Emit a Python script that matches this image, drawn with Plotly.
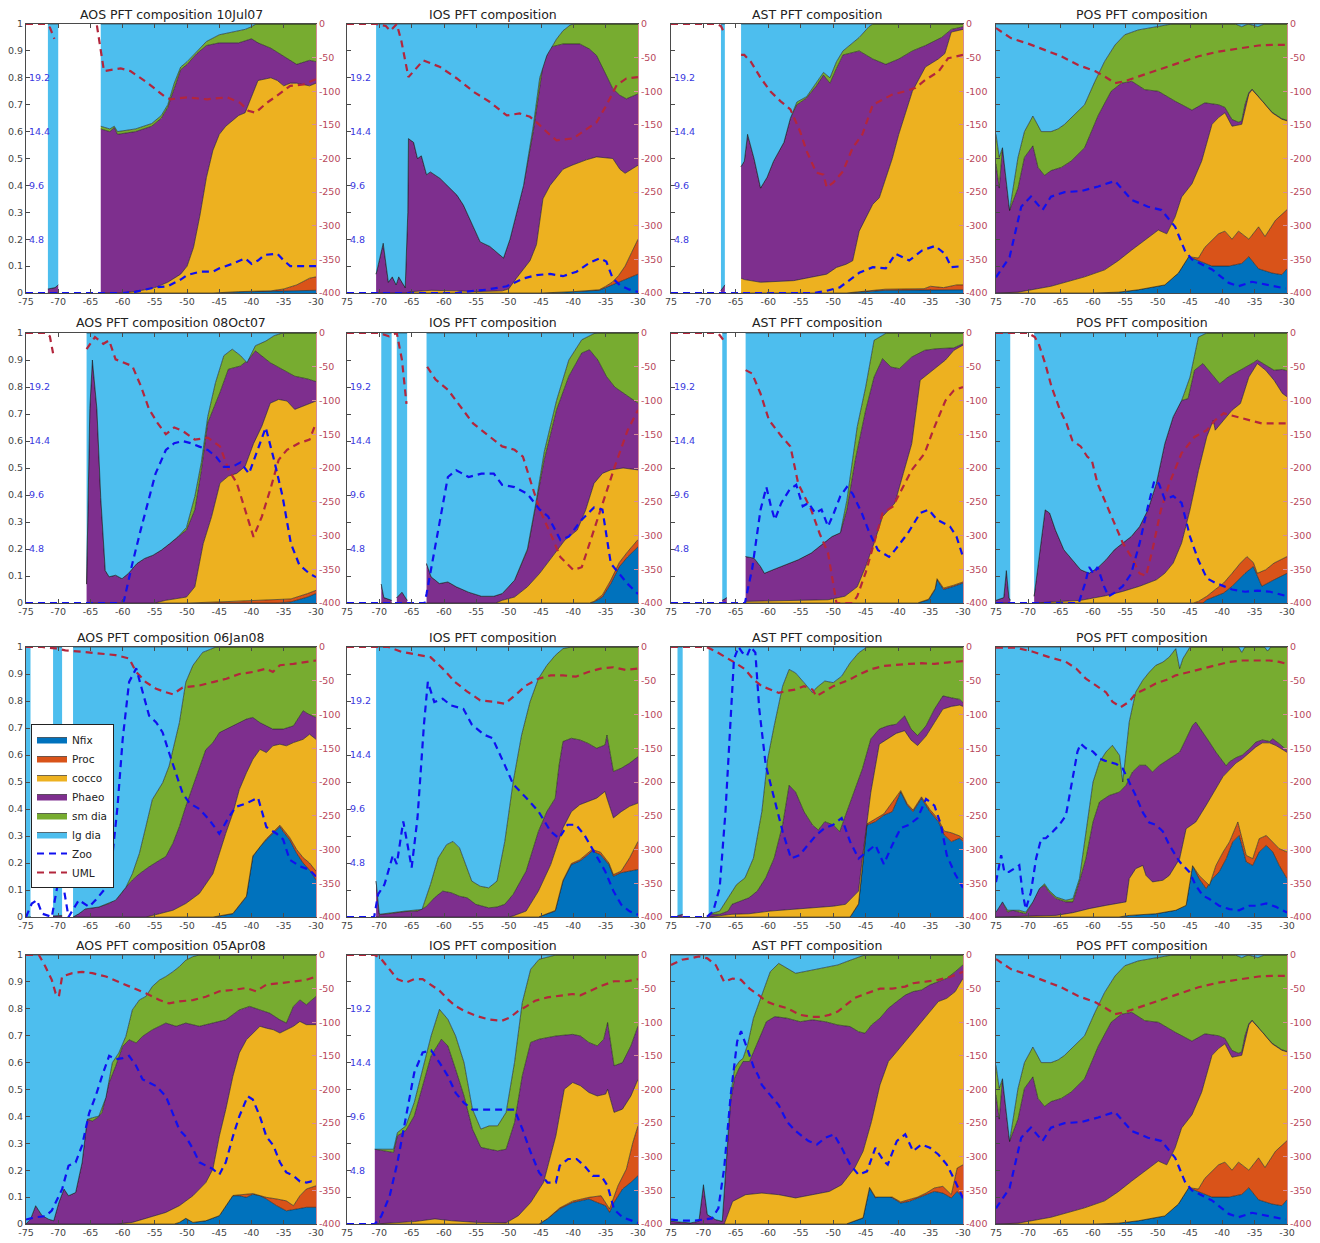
import copy
import plotly.graph_objects as go

W, H = 1320, 1243

TITLES = ["AOS PFT composition 10Jul07", "IOS PFT composition", "AST PFT composition", "POS PFT composition",
          "AOS PFT composition 08Oct07", "IOS PFT composition", "AST PFT composition", "POS PFT composition",
          "AOS PFT composition 06Jan08", "IOS PFT composition", "AST PFT composition", "POS PFT composition",
          "AOS PFT composition 05Apr08", "IOS PFT composition", "AST PFT composition", "POS PFT composition"]
SHOW_ZOO_LABELS = [True, True, True, False, True, True, True, False,
                   False, True, False, False, False, True, False, False]

SERIES_NAMES = ["Nfix", "Proc", "cocco", "Phaeo", "sm dia", "lg dia"]
SERIES_COLORS = ["#0072BD", "#D95319", "#EDB120", "#7E2F8E", "#77AC30", "#4DBEEE"]

X_TICKS = [-75, -70, -65, -60, -55, -50, -45, -40, -35, -30]
FRAC_TICKS = [0, 0.1, 0.2, 0.3, 0.4, 0.5, 0.6, 0.7, 0.8, 0.9, 1]
FRAC_LABELS = ["0", "0.1", "0.2", "0.3", "0.4", "0.5", "0.6", "0.7", "0.8", "0.9", "1"]
UML_TICKS = [0, -50, -100, -150, -200, -250, -300, -350, -400]
UML_LABELS = ["0", "-50", "-100", "-150", "-200", "-250", "-300", "-350", "-400"]
ZOO_TICKS = [4.8, 9.6, 14.4, 19.2]
ZOO_LABELS = ["4.8", "9.6", "14.4", "19.2"]

# Cumulative tops of each functional type (fraction of total), (longitude, value); None = data gap
NFIX = [
    [(-71.6, 0), (-70, 0), None, (-63.4, 0), (-46, 0), (-42, .004), (-36, .006), (-33, .008), (-30, .01)],
    [(-70.5, 0), (-45, 0), (-40, .005), (-36, .01), (-35, .02), (-33, .04), (-31, .06), (-30, .07)],
    [(-67.3, 0), (-66.7, 0), None, (-64.2, 0), (-48, 0), (-45, .005), (-42, .01), (-30, .012)],
    [(-75, 0), (-60, 0), (-56.1, .003), (-53, .012), (-48.9, .03), (-46.8, .074), (-45.2, .135), (-43.7, .12), (-41.6, .1), (-39, .1), (-37, .11), (-35.9, .135), (-34.4, .09), (-32.3, .074), (-30.8, .068), (-30, .09)],
    [(-65.6, 0), (-36, 0), (-33.9, .004), (-31.3, .022), (-30, .035)],
    [(-69.7, 0), (-68.1, 0), None, (-67.3, 0), (-65.7, 0), None, (-62.7, 0), (-37.5, 0), (-36.8, .004), (-35.5, .022), (-34.2, .072), (-32.9, .134), (-31.6, .171), (-30, .208)],
    [(-67.1, 0), (-66.4, 0), None, (-63.5, 0), (-37, 0), (-35.3, .012), (-34.6, .037), (-34.3, .05), (-34, .086), (-33, .05), (-31.4, .062), (-30, .074)],
    [(-75, 0), (-72.8, 0), None, (-69.1, 0), (-43, 0), (-42.4, .012), (-39.8, .037), (-38.5, .062), (-36.5, .11), (-35.2, .135), (-33.9, .062), (-32, .086), (-30, .11)],
    [(-75, 0), (-74.3, 0), None, (-70.8, 0), (-69.4, 0), None, (-67.7, 0), (-46, 0), (-42.9, .012), (-40.8, .075), (-39.8, .224), (-38.7, .26), (-37.7, .286), (-36.7, .31), (-35.6, .335), (-35.1, .317), (-34.1, .286), (-33, .236), (-32, .2), (-31, .174), (-30, .137)],
    [(-70.5, 0), (-45.4, 0), (-42.8, .022), (-41.6, .133), (-40.3, .194), (-39, .207), (-37.7, .231), (-37.1, .244), (-35.8, .231), (-34.5, .194), (-33.8, .151), (-32.6, .164), (-30, .176)],
    [(-74, 0), (-73.2, 0), None, (-69.2, 0), (-47.4, 0), (-46.1, .047), (-44.8, .34), (-43.5, .353), (-42.2, .377), (-40.9, .39), (-39.6, .463), (-38.6, .414), (-37.7, .39), (-36.4, .439), (-35.1, .39), (-33.8, .353), (-32.9, .304), (-31.8, .279), (-30.5, .292), (-30, .279)],
    [(-75, 0), (-56, 0), (-54.4, .006), (-50.3, .012), (-47.2, .025), (-45.6, .043), (-44.6, .19), (-43.6, .142), (-42.5, .105), (-41.5, .142), (-40.5, .167), (-39.4, .216), (-38.4, .278), (-37.4, .302), (-36.3, .204), (-35.3, .191), (-34.3, .241), (-33.2, .265), (-32.2, .241), (-31.2, .191), (-30, .142)],
    [(-75, 0), (-52, 0), (-51.2, .006), (-50.2, .021), (-49.1, .006), (-47.1, .012), (-45, .031), (-44, .068), (-42.9, .105), (-41.9, .105), (-40.8, .099), (-39.8, .111), (-38.7, .105), (-37.7, .093), (-36.1, .068), (-34.6, .049), (-33, .056), (-31.5, .062), (-30, .062)],
    [(-70.7, 0), (-45.3, 0), (-44, .019), (-42.1, .056), (-40.1, .08), (-38.9, .087), (-37.6, .093), (-36.3, .08), (-35, .068), (-34.4, .043), (-33.7, .08), (-32.4, .13), (-31.1, .155), (-30, .18)],
    [(-75, 0), (-48, 0), (-45.4, .022), (-44.4, .134), (-43.5, .097), (-42.2, .115), (-40.9, .097), (-39.6, .078), (-38.3, .084), (-37, .097), (-35.7, .109), (-34.4, .121), (-33.1, .115), (-31.8, .097), (-30.9, .121), (-30, .097)],
]

PROC = [
    [(-71.6, 0), (-70, 0), None, (-63.4, 0), (-46, 0), (-42, .005), (-37, .008), (-35, .015), (-33, .03), (-31, .055), (-30, .06)],
    [(-70.5, 0), (-45, 0), (-40, .005), (-36, .012), (-35, .025), (-34, .04), (-33, .065), (-32, .1), (-31, .15), (-30, .2)],
    [(-67.3, 0), (-66.7, 0), None, (-64.2, 0), (-48, 0), (-45, .007), (-42, .014), (-36, .016), (-35, .025), (-33, .02), (-31, .03), (-30, .03)],
    [(-75, 0), (-60, 0), (-56.1, .003), (-53, .012), (-48.9, .03), (-46.8, .074), (-45.2, .135), (-43.7, .13), (-42.7, .17), (-40.6, .22), (-39.6, .23), (-38.5, .2), (-37.5, .23), (-35.9, .2), (-34.4, .246), (-33.4, .21), (-31.8, .27), (-30, .31)],
    [(-65.6, 0), (-50, 0), (-45, .004), (-40, .008), (-35, .012), (-33.9, .015), (-31.3, .035), (-30, .047)],
    [(-69.7, 0), (-68.1, 0), None, (-67.3, 0), (-65.7, 0), None, (-62.7, 0), (-37.5, 0), (-36.8, .006), (-35.5, .03), (-34.2, .085), (-32.9, .15), (-31.6, .19), (-30, .235)],
    [(-67.1, 0), (-66.4, 0), None, (-63.5, 0), (-37, 0), (-35.3, .014), (-34.6, .04), (-34.3, .053), (-34, .09), (-33, .055), (-31.4, .066), (-30, .078)],
    [(-75, 0), (-72.8, 0), None, (-69.1, 0), (-44.5, 0), (-43.7, .006), (-42.4, .025), (-41.1, .05), (-39.8, .074), (-38.5, .11), (-37.2, .148), (-36.2, .172), (-35.2, .15), (-34.6, .11), (-33.3, .123), (-32, .148), (-30, .172)],
    [(-75, 0), (-74.3, 0), None, (-70.8, 0), (-69.4, 0), None, (-67.7, 0), (-46, 0), (-42.9, .013), (-40.8, .077), (-39.8, .226), (-37.7, .29), (-35.6, .34), (-35.1, .325), (-34.1, .295), (-33, .25), (-32, .22), (-31, .2), (-30, .17)],
    [(-70.5, 0), (-45.4, 0), (-42.8, .024), (-41.6, .136), (-40.3, .198), (-39, .212), (-37.1, .25), (-35.8, .24), (-34.5, .2), (-33.8, .157), (-32.6, .17), (-31.3, .219), (-30, .28)],
    [(-74, 0), (-73.2, 0), None, (-69.2, 0), (-47.4, 0), (-46.1, .049), (-44.8, .345), (-42.2, .382), (-39.6, .468), (-38.6, .42), (-37.7, .396), (-36.4, .445), (-35.1, .398), (-33.8, .362), (-32.9, .318), (-31.8, .312), (-30.5, .3), (-30, .29)],
    [(-75, 0), (-56, 0), (-54.4, .006), (-50.3, .012), (-47.2, .025), (-45.6, .043), (-44.6, .19), (-43.6, .154), (-42, .117), (-41, .19), (-39.9, .24), (-38.9, .278), (-37.6, .352), (-36.3, .228), (-35.3, .216), (-34.3, .29), (-33.2, .302), (-32.2, .278), (-31.2, .253), (-30, .241)],
    [(-75, 0), (-52, 0), (-51.2, .006), (-50.2, .021), (-49.1, .006), (-47.1, .012), (-45, .031), (-44, .069), (-42.9, .106), (-39.8, .113), (-37.7, .099), (-36.1, .093), (-34.6, .086), (-33.5, .068), (-32.5, .105), (-31.5, .13), (-30, .142)],
    [(-70.7, 0), (-45.3, 0), (-44, .02), (-42.1, .06), (-40.1, .085), (-37.6, .099), (-35.7, .105), (-34.4, .056), (-33.1, .142), (-31.8, .204), (-30.8, .303), (-30, .365)],
    [(-75, 0), (-48, 0), (-45.4, .023), (-44.4, .136), (-43.5, .1), (-40.9, .1), (-39.6, .082), (-37, .1), (-35.7, .115), (-34.4, .134), (-33.1, .14), (-31.8, .109), (-30.9, .208), (-30, .22)],
]

COCCO = [
    [(-71.6, 0), (-70, 0), None, (-63.4, 0), (-60, 0), (-57, .01), (-55, .02), (-53, .04), (-51, .07), (-50, .1), (-49, .17), (-48, .29), (-47, .43), (-46, .53), (-45, .59), (-44, .62), (-42, .66), (-41, .67), (-40, .73), (-39, .79), (-37, .8), (-36, .79), (-35, .77), (-34, .78), (-33, .78), (-31, .77), (-30, .78)],
    [(-70.5, 0), (-66, 0), (-65, .005), (-62, .01), (-58, .008), (-55, .005), (-51, .008), (-50, .015), (-48.8, .055), (-46.7, .12), (-45.7, .18), (-44.7, .35), (-43.6, .4), (-41.6, .46), (-40.2, .475), (-38, .495), (-36.4, .506), (-33.9, .5), (-32.8, .46), (-32, .445), (-30, .475)],
    [(-67.3, 0), (-66.7, 0), None, (-64.2, .055), (-63.7, .05), (-61.2, .04), (-56.1, .046), (-51, .07), (-49.5, .095), (-48, .107), (-47, .12), (-46, .23), (-43.9, .33), (-42.9, .354), (-40.9, .5), (-39.9, .59), (-37.8, .75), (-35.8, .84), (-33.8, .87), (-32.8, .89), (-31.8, .97), (-30, .98)],
    [(-75, 0), (-71.6, .003), (-66.5, .025), (-61.3, .06), (-58.2, .086), (-56.1, .12), (-54, .16), (-52, .197), (-49.9, .234), (-48.6, .22), (-47.3, .283), (-46.3, .357), (-44.7, .406), (-43.2, .49), (-41.6, .627), (-40.6, .652), (-39.6, .67), (-38.5, .62), (-37, .627), (-35.9, .74), (-35.4, .756), (-33.8, .713), (-32.3, .67), (-30.8, .646), (-30, .64)],
    [(-65.6, 0), (-55, 0), (-53.3, .01), (-50.1, .022), (-48.8, .06), (-47.5, .22), (-46.2, .32), (-44.9, .444), (-43.6, .47), (-42.3, .48), (-41, .506), (-39.7, .59), (-38.4, .655), (-37.1, .74), (-35.8, .754), (-34.5, .748), (-33.3, .717), (-32, .73), (-30, .748)],
    [(-69.7, 0), (-68.1, 0), None, (-67.3, 0), (-65.7, 0), None, (-62.7, 0), (-52, 0), (-51, .01), (-49.1, .022), (-47.1, .06), (-45.2, .11), (-43.3, .17), (-41.3, .233), (-39.4, .27), (-38.1, .344), (-36.8, .443), (-35.5, .48), (-34.2, .493), (-32.3, .5), (-30, .493)],
    [(-67.1, 0), (-66.4, 0), None, (-63.5, .006), (-50.8, .012), (-48.2, .025), (-46.3, .06), (-45, .135), (-43.7, .222), (-42.4, .32), (-40.5, .37), (-39.2, .48), (-37.9, .59), (-36.6, .825), (-35.3, .85), (-34, .874), (-32.7, .9), (-31.4, .936), (-30, .955)],
    [(-75, 0), (-72.8, 0), None, (-69.1, 0), (-61.9, .01), (-58, .027), (-55.4, .043), (-52.8, .062), (-50.2, .086), (-48.9, .11), (-47.6, .148), (-46.3, .222), (-45, .345), (-43.7, .49), (-42.4, .616), (-41.4, .677), (-41.1, .64), (-39.8, .677), (-38.5, .714), (-37.2, .739), (-35.9, .837), (-34.6, .887), (-33.3, .862), (-32, .825), (-30.7, .776), (-30, .764)],
    [(-75, 0), (-74.3, 0), None, (-70.8, 0), (-69.4, 0), None, (-67.7, 0), (-56.4, 0), (-54.3, .012), (-52.2, .025), (-50.2, .05), (-48.1, .087), (-46, .16), (-45, .236), (-44, .31), (-42.9, .385), (-41.9, .472), (-40.8, .534), (-39.8, .584), (-38.7, .621), (-37.7, .609), (-36.7, .634), (-35.6, .64), (-34.6, .634), (-33.5, .646), (-32, .658), (-31, .677), (-30, .658)],
    [(-70.5, 0), (-50, 0), (-49.3, .004), (-47.3, .022), (-45.4, .096), (-43.5, .194), (-41.6, .33), (-40.3, .39), (-39, .416), (-37.7, .428), (-36.4, .44), (-35.1, .465), (-34.8, .44), (-33.8, .367), (-32.6, .39), (-31.3, .41), (-30, .422)],
    [(-74, 0), (-73.2, 0), None, (-69.2, 0), (-65.6, .01), (-63, .012), (-59.7, .022), (-56.5, .028), (-53.2, .034), (-50, .04), (-48.1, .047), (-46.1, .096), (-45.5, .218), (-44.2, .463), (-42.9, .64), (-41.6, .66), (-40.3, .68), (-39, .69), (-38, .655), (-37, .635), (-35.7, .67), (-34.4, .72), (-33.1, .77), (-31.8, .78), (-30.5, .785), (-30, .78)],
    [(-75, 0), (-65.7, .006), (-63.1, .016), (-60.6, .031), (-58, .043), (-54.9, .056), (-54.4, .142), (-53.4, .179), (-52.3, .191), (-51.8, .154), (-50.8, .13), (-49.2, .136), (-48.2, .154), (-46.6, .216), (-45.6, .327), (-44.1, .352), (-42.5, .414), (-41, .475), (-39.9, .52), (-38.9, .545), (-37.9, .57), (-36.9, .586), (-35.8, .611), (-34.8, .63), (-33.8, .645), (-32.7, .645), (-31.7, .635), (-30, .61)],
    [(-75, 0), (-61, 0), (-58.5, .006), (-55.9, .025), (-53.3, .043), (-51.2, .068), (-49.1, .105), (-47.1, .154), (-46, .204), (-45, .327), (-44, .426), (-42.9, .549), (-41.9, .636), (-40.8, .685), (-39.8, .71), (-38.7, .735), (-37.7, .728), (-36.6, .722), (-35.6, .71), (-34.6, .722), (-33.5, .735), (-32.5, .753), (-31.5, .741), (-30, .741)],
    [(-70.7, 0), (-67.8, .004), (-64.6, .009), (-61.4, .019), (-58.8, .012), (-54.9, .006), (-50.4, .004), (-48.5, .031), (-46.6, .08), (-44.6, .155), (-42.7, .328), (-41.4, .501), (-40.1, .526), (-38.9, .514), (-37.6, .489), (-36.3, .476), (-35, .483), (-34.7, .501), (-33.7, .415), (-32.4, .427), (-31.1, .476), (-30, .538)],
    [(-75, 0), (-66.8, 0), (-65.5, .084), (-63.5, .109), (-61, .115), (-58.4, .109), (-55.8, .097), (-53.2, .109), (-50.6, .121), (-48.7, .146), (-46.7, .208), (-45.4, .27), (-44.1, .381), (-42.8, .517), (-41.5, .604), (-40.2, .641), (-38.9, .678), (-37.7, .715), (-36.4, .752), (-35.1, .79), (-33.8, .827), (-32.5, .839), (-31.2, .864), (-30.6, .889), (-30, .913)],
]

PHAEO = [
    [(-71.6, .015), (-70.5, .02), (-70, .03), None, (-63.4, .61), (-62, .6), (-61.3, .615), (-60.8, .59), (-58, .6), (-55.5, .62), (-54, .65), (-53, .69), (-52, .76), (-51, .83), (-50, .85), (-48.5, .89), (-47, .92), (-45, .93), (-42, .93), (-40, .945), (-39, .93), (-37, .91), (-35, .88), (-33, .85), (-31, .865), (-30, .86)],
    [(-70.5, .07), (-69.4, .185), (-68.6, .04), (-68, .06), (-67.4, .03), (-67, .06), (-66, .02), (-65.6, .3), (-65.5, .574), (-64.7, .56), (-64.1, .5), (-63.5, .51), (-62.7, .44), (-62.1, .45), (-60.6, .426), (-59, .39), (-58, .364), (-57, .327), (-55.4, .24), (-54.4, .19), (-52.9, .173), (-51.9, .154), (-50.8, .13), (-49.8, .2), (-47.7, .4), (-46.2, .6), (-44.7, .846), (-43.6, .914), (-41.6, .926), (-39, .926), (-37.5, .907), (-36.4, .883), (-34.9, .809), (-33.9, .76), (-32.8, .735), (-31.8, .722), (-30, .74)],
    [(-67.3, .01), (-66.7, .03), None, (-64.2, .47), (-63.7, .49), (-63.2, .59), (-62.2, .5), (-61.2, .39), (-60.2, .43), (-59.2, .49), (-57.6, .56), (-56.6, .65), (-55.6, .7), (-54.1, .725), (-52.6, .77), (-51.5, .81), (-50.5, .78), (-49.5, .835), (-48.5, .885), (-46, .9), (-43.9, .87), (-41.9, .85), (-39.9, .87), (-37.8, .9), (-35.8, .92), (-33.3, .95), (-31.8, .98), (-30, .99)],
    [(-75, .48), (-74.5, .39), (-74, .54), (-72.9, .307), (-71.6, .39), (-70.6, .504), (-69.3, .547), (-68.5, .467), (-67.5, .437), (-66.5, .455), (-64.9, .467), (-63.4, .49), (-61.3, .54), (-59.2, .66), (-57.2, .75), (-55.6, .78), (-54, .787), (-52, .756), (-49.9, .75), (-47.3, .713), (-44.7, .68), (-42.7, .707), (-40.6, .7), (-39.6, .69), (-39, .665), (-38.5, .645), (-37.5, .635), (-37, .64), (-36.5, .7), (-35.9, .745), (-35.4, .758), (-33.8, .715), (-32.3, .672), (-30.8, .648), (-30, .642)],
    [(-65.6, .07), (-65.1, .72), (-64.7, .9), (-64, .72), (-63.4, .39), (-62.7, .12), (-62.1, .097), (-61.1, .103), (-60.1, .09), (-59.1, .11), (-57.8, .146), (-56.6, .165), (-55.3, .177), (-54, .196), (-52.7, .22), (-51.4, .246), (-50.1, .27), (-48.8, .345), (-47.8, .49), (-46.8, .667), (-44.9, .78), (-43.6, .866), (-41.7, .878), (-40.4, .903), (-39.4, .934), (-37.1, .89), (-35.2, .866), (-33.3, .84), (-31.3, .83), (-30, .82)],
    [(-69.7, .07), (-69.3, .02), (-68.1, .01), None, (-67.3, .02), (-66.5, .04), (-65.7, .01), None, (-62.7, .146), (-62, .097), (-60.7, .072), (-59.4, .078), (-58.1, .06), (-56.2, .04), (-54.2, .025), (-52.3, .025), (-51, .035), (-49.1, .084), (-47.1, .196), (-45.8, .356), (-44.5, .53), (-42.6, .715), (-40.7, .84), (-38.7, .926), (-37.5, .938), (-36.2, .9), (-34.9, .84), (-33.6, .8), (-31.6, .765), (-30, .74)],
    [(-67.1, .01), (-66.4, .02), None, (-63.5, .172), (-62.2, .166), (-61.2, .135), (-60.6, .11), (-59.3, .123), (-57.3, .142), (-55.4, .16), (-53.4, .185), (-51.5, .222), (-50.2, .246), (-48.9, .26), (-47.9, .345), (-46.6, .53), (-45, .714), (-43.7, .837), (-42.4, .905), (-41.1, .874), (-39.8, .868), (-37.9, .911), (-35.9, .936), (-34, .942), (-31.4, .945), (-30, .96)],
    [(-75, .01), (-73.8, .02), (-73.4, .12), (-73, .02), (-72.8, .01), None, (-69.1, .025), (-68.4, .16), (-67.4, .345), (-66.7, .333), (-65.8, .27), (-64.5, .197), (-63.2, .16), (-61.9, .123), (-60.6, .11), (-59.3, .13), (-58, .16), (-56.7, .197), (-55.4, .222), (-54.1, .246), (-52.8, .283), (-51.5, .345), (-50.2, .443), (-48.9, .59), (-47.6, .69), (-46.3, .75), (-45.3, .757), (-44.3, .862), (-43, .887), (-41.7, .85), (-40.4, .812), (-39.1, .837), (-37.2, .862), (-35.2, .89), (-34.6, .9), (-33.3, .88), (-32, .862), (-30.7, .865), (-30, .86)],
    [(-75, 0), (-74.3, 0), None, (-70.8, .004), (-69.4, .006), None, (-67.7, 0), (-66.8, .012), (-65.8, .03), (-63.7, .037), (-62.1, .05), (-60.6, .075), (-59.5, .11), (-58.5, .137), (-57.4, .16), (-55.9, .186), (-54.3, .21), (-53.3, .224), (-52.2, .273), (-51.2, .335), (-50.2, .41), (-49.1, .484), (-48.1, .559), (-47.1, .62), (-46, .646), (-45, .683), (-42.9, .708), (-40.8, .733), (-39.8, .739), (-38.7, .72), (-37.7, .708), (-36.7, .696), (-35.1, .696), (-33.5, .708), (-32, .764), (-31.2, .752), (-30, .739)],
    [(-70.5, .133), (-70, .01), (-68.6, .012), (-66, .02), (-64.1, .022), (-62.8, .037), (-61.5, .071), (-60.2, .096), (-58.9, .09), (-57.6, .077), (-56.4, .071), (-55.1, .047), (-53.1, .034), (-51.8, .037), (-50.6, .047), (-49.3, .084), (-47.3, .17), (-45.4, .317), (-44.1, .39), (-42.8, .44), (-42.2, .563), (-41.6, .65), (-40.3, .662), (-39, .656), (-37.7, .643), (-36.4, .625), (-35.1, .637), (-34.8, .674), (-33.8, .539), (-32.6, .551), (-31.3, .57), (-30, .594)],
    [(-74, .005), (-73.2, .01), None, (-69.2, .01), (-67.5, .01), (-66.2, .022), (-65.6, .047), (-64.3, .059), (-63, .071), (-61.7, .096), (-60.4, .145), (-59.1, .218), (-57.8, .341), (-56.8, .488), (-55.8, .463), (-54.5, .39), (-53.2, .341), (-52.3, .322), (-51.3, .353), (-50, .341), (-49, .316), (-48.1, .377), (-46.8, .463), (-45.5, .549), (-44.2, .66), (-42.9, .696), (-41.6, .708), (-40.3, .714), (-39, .745), (-38, .696), (-37, .672), (-35.7, .708), (-34.4, .77), (-33.1, .819), (-31.8, .812), (-30.5, .806), (-30, .794)],
    [(-75, .018), (-74, .056), (-73.2, .018), (-72.4, .025), (-71.4, .018), (-70.4, .012), (-69.3, .056), (-68.3, .105), (-67.5, .117), (-66.8, .093), (-65.7, .068), (-64.2, .056), (-63.1, .056), (-62.1, .13), (-61.1, .216), (-60, .352), (-59, .426), (-57.5, .45), (-55.9, .463), (-54.9, .488), (-53.9, .537), (-52.8, .562), (-51.8, .562), (-50.8, .537), (-49.7, .562), (-48.2, .586), (-46.6, .611), (-45.6, .66), (-44.6, .71), (-44.1, .722), (-43, .685), (-42, .648), (-41, .611), (-39.9, .574), (-39.4, .56), (-38.9, .575), (-37.9, .59), (-36.9, .6), (-35.8, .623), (-34.8, .648), (-33.8, .656), (-32.7, .65), (-32.2, .66), (-31.2, .642), (-30, .617)],
    [(-75, 0), (-74.3, .018), (-73.5, .068), (-72.5, .031), (-71.5, .018), (-70.7, .012), (-69.9, .08), (-69.1, .13), (-68.4, .105), (-67.3, .117), (-66.3, .228), (-65.5, .389), (-64.7, .383), (-63.9, .395), (-63.2, .414), (-62.1, .525), (-61.1, .586), (-60, .66), (-59, .685), (-57.9, .673), (-56.9, .698), (-55.4, .722), (-54.3, .735), (-53.3, .747), (-51.7, .735), (-50.2, .747), (-48.1, .735), (-46, .747), (-44, .759), (-41.9, .796), (-40.3, .809), (-38.7, .796), (-37.2, .784), (-35.6, .759), (-34.6, .747), (-33.5, .809), (-32.5, .833), (-31.5, .815), (-30, .846)],
    [(-70.7, .278), (-69.1, .272), (-67.8, .266), (-67.2, .328), (-65.9, .347), (-64.6, .402), (-63.3, .514), (-62, .625), (-60.4, .687), (-59.4, .662), (-58.2, .575), (-56.9, .476), (-55.6, .353), (-54.3, .285), (-53, .278), (-51.7, .272), (-50.4, .278), (-49.1, .377), (-47.9, .551), (-46.6, .675), (-45.3, .687), (-42.7, .699), (-40.1, .705), (-38.9, .699), (-37.6, .675), (-36.3, .662), (-35.3, .687), (-34.7, .749), (-33.7, .588), (-32.4, .6), (-31.1, .662), (-30, .736)],
    [(-75, .01), (-72, .004), (-70.7, .01), (-70, .146), (-69.4, .035), (-68.1, .016), (-67.1, .01), (-66.5, .208), (-65.8, .455), (-65.2, .542), (-64.5, .579), (-63.9, .604), (-62.9, .604), (-61.6, .678), (-60.3, .752), (-59, .771), (-57.1, .765), (-55.1, .752), (-53.2, .759), (-51.2, .752), (-49.3, .74), (-47.4, .734), (-46.1, .715), (-45.1, .709), (-44.1, .74), (-42.8, .765), (-41.5, .802), (-40.2, .827), (-38.9, .851), (-37.7, .864), (-36.4, .87), (-35.1, .889), (-33.8, .901), (-32.5, .913), (-31.2, .938), (-30, .963)],
]

SMDIA = [
    [(-71.6, .015), (-70.5, .02), (-70, .03), None, (-63.4, .62), (-62, .61), (-61.3, .62), (-60.8, .6), (-58, .61), (-55.5, .63), (-54, .66), (-53, .7), (-52, .78), (-51, .84), (-50, .86), (-48, .91), (-47, .935), (-45, .96), (-43, .97), (-41, .98), (-40, .99), (-39.3, 1), (-30, 1)],
    [(-70.5, .07), (-69.4, .185), (-68.6, .04), (-68, .06), (-67.4, .03), (-67, .06), (-66, .02), (-65.6, .3), (-65.5, .574), (-64.7, .56), (-64.1, .5), (-63.5, .51), (-62.7, .44), (-62.1, .45), (-60.6, .426), (-59, .39), (-58, .364), (-57, .327), (-55.4, .24), (-54.4, .19), (-52.9, .173), (-51.9, .154), (-50.8, .13), (-49.8, .2), (-47.7, .4), (-46.2, .62), (-45.2, .8), (-44.1, .883), (-42.6, .944), (-41.6, .975), (-40.5, .996), (-40, 1), (-30, 1)],
    [(-67.3, .01), (-66.7, .03), None, (-64.2, .47), (-63.7, .49), (-63.2, .59), (-62.2, .5), (-61.2, .39), (-60.2, .43), (-59.2, .49), (-57.6, .56), (-56.6, .65), (-55.6, .71), (-54.1, .73), (-52.6, .78), (-51.5, .82), (-50.5, .8), (-49.5, .86), (-48.5, .9), (-46, .95), (-44.5, .99), (-43.9, 1), (-30, 1)],
    [(-75, .59), (-74.5, .504), (-74, .54), (-72.9, .307), (-71.6, .504), (-70.6, .6), (-69.3, .658), (-68, .6), (-66.5, .6), (-65.4, .61), (-64.4, .627), (-62.8, .664), (-61.3, .7), (-59.7, .787), (-58.2, .861), (-56.6, .922), (-55.1, .96), (-53, .978), (-49.9, .99), (-47.8, 1), (-38, 1), (-37, .99), (-36, 1), (-34.5, .99), (-33.5, 1), (-30, 1)],
    [(-65.6, .07), (-65.1, .72), (-64.7, .9), (-64, .72), (-63.4, .39), (-62.7, .12), (-62.1, .097), (-61.1, .103), (-60.1, .09), (-59.1, .11), (-57.8, .146), (-56.6, .165), (-55.3, .177), (-54, .196), (-52.7, .22), (-51.4, .246), (-50.1, .28), (-48.8, .395), (-47.8, .52), (-46.8, .69), (-45.6, .816), (-44.3, .916), (-43, .94), (-41.7, .916), (-40.7, .89), (-39.4, .953), (-37.8, .97), (-36.5, .99), (-35.2, 1), (-30, 1)],
    [(-69.7, .07), (-69.3, .02), (-68.1, .01), None, (-67.3, .02), (-66.5, .04), (-65.7, .01), None, (-62.7, .146), (-62, .097), (-60.7, .072), (-59.4, .078), (-58.1, .06), (-56.2, .04), (-54.2, .025), (-52.3, .025), (-51, .035), (-49.1, .084), (-47.1, .2), (-45.8, .37), (-44.5, .56), (-42.6, .75), (-40.7, .9), (-38.7, .975), (-36.8, .998), (-36, 1), (-30, 1)],
    [(-67.1, .01), (-66.4, .02), None, (-63.5, .172), (-62.2, .166), (-61.2, .135), (-60.6, .11), (-59.3, .123), (-57.3, .142), (-55.4, .16), (-53.4, .185), (-51.5, .222), (-50.2, .246), (-48.9, .26), (-47.9, .38), (-46.3, .653), (-45, .8), (-43.7, .973), (-41.8, 1), (-30, 1)],
    [(-75, .01), (-73.8, .02), (-73.4, .12), (-73, .02), (-72.8, .01), None, (-69.1, .025), (-68.4, .16), (-67.4, .345), (-66.7, .333), (-65.8, .27), (-64.5, .197), (-63.2, .16), (-61.9, .123), (-60.6, .11), (-59.3, .13), (-58, .16), (-56.7, .197), (-55.4, .222), (-54.1, .246), (-52.8, .283), (-51.5, .345), (-50.2, .443), (-48.9, .59), (-47.6, .69), (-46.3, .75), (-45.9, .776), (-45, .837), (-43.7, .985), (-42.4, 1), (-30, 1)],
    [(-75, 0), (-74.3, 0), None, (-70.8, .004), (-69.4, .006), None, (-67.7, 0), (-66.8, .012), (-65.8, .03), (-63.7, .037), (-61.1, .062), (-59.5, .11), (-58.5, .16), (-57.4, .236), (-56.4, .335), (-55.4, .435), (-53.8, .497), (-52.8, .559), (-51.2, .72), (-50.2, .87), (-49.1, .932), (-47.6, .98), (-45.5, 1), (-30, 1)],
    [(-70.5, .133), (-70, .01), (-66, .022), (-63.4, .028), (-62.1, .12), (-60.9, .219), (-59.6, .268), (-58.6, .28), (-57.6, .256), (-56.7, .194), (-55.7, .133), (-54.4, .114), (-53.1, .108), (-51.8, .133), (-50.6, .28), (-49.3, .502), (-48, .674), (-46.7, .797), (-45.4, .883), (-44.1, .932), (-42.8, .969), (-41.6, .994), (-40.3, 1), (-30, 1)],
    [(-74, .005), (-73.2, .01), None, (-69.2, .01), (-67.5, .022), (-66.2, .071), (-64.9, .12), (-63.6, .145), (-62.3, .218), (-61, .39), (-60.1, .586), (-59.1, .708), (-57.8, .855), (-56.8, .917), (-55.8, .904), (-54.5, .868), (-53.2, .831), (-52.6, .849), (-51.3, .874), (-50, .868), (-48.7, .892), (-47.4, .941), (-46.1, .978), (-44.8, 1), (-30, 1)],
    [(-75, .018), (-74, .056), (-73.2, .025), (-71.4, .025), (-70.4, .018), (-69.3, .056), (-68.3, .105), (-67.5, .123), (-66.8, .099), (-65.7, .074), (-64.2, .062), (-63.1, .068), (-62.1, .142), (-61.1, .315), (-60, .5), (-59, .574), (-58, .611), (-57, .636), (-55.9, .599), (-55.4, .5), (-54.4, .722), (-53.4, .833), (-52.3, .877), (-51.3, .907), (-50.3, .932), (-49.2, .944), (-48.2, .963), (-47.2, .994), (-46.6, .92), (-46.1, .957), (-45, 1), (-37.5, 1), (-37, .98), (-36.5, 1), (-33.5, 1), (-33, .985), (-32.5, 1), (-30, 1)],
    [(-75, 0), (-74.3, .018), (-73.5, .068), (-72.5, .031), (-71.5, .018), (-70.7, .012), (-69.9, .08), (-69.1, .13), (-68.4, .105), (-67.3, .117), (-66.3, .228), (-65.5, .389), (-64.7, .395), (-63.7, .401), (-62.6, .47), (-62.1, .54), (-61.6, .6), (-60.6, .636), (-59.5, .698), (-58.5, .796), (-57.4, .833), (-56.4, .846), (-55.4, .883), (-54.3, .907), (-53.3, .92), (-52.2, .938), (-51.2, .957), (-50.2, .981), (-49.1, .994), (-48.1, 1), (-30, 1)],
    [(-70.7, .278), (-67.8, .278), (-67.2, .34), (-65.9, .365), (-64.6, .452), (-63.3, .575), (-62, .699), (-60.7, .798), (-59.4, .761), (-58.2, .699), (-56.9, .6), (-55.6, .427), (-54.3, .353), (-53, .365), (-51.7, .365), (-50.4, .415), (-49.1, .6), (-47.9, .823), (-46.6, .947), (-45.3, .984), (-43.4, .996), (-42.7, 1), (-30, 1)],
    [(-75, .01), (-72, .004), (-70.7, .01), (-70, .146), (-69.4, .035), (-68.1, .016), (-67.1, .01), (-66.5, .22), (-65.8, .48), (-65.2, .579), (-64.5, .604), (-63.9, .616), (-63.2, .666), (-62.3, .765), (-61, .851), (-59.7, .938), (-58.4, .969), (-57.1, .95), (-55.8, .932), (-54.5, .938), (-53.2, .944), (-51.9, .95), (-50.6, .957), (-49.3, .963), (-48, .975), (-46.7, .988), (-45.4, .998), (-44.1, 1), (-30, 1)],
]

# Zooplankton (left inner axis units) and upper mixed layer depth (m), (longitude, value)
ZOO = [
    [(-75, 0), (-60, 0), (-58, .1), (-55, .5), (-53, .6), (-51, 1.2), (-50, 1.6), (-48, 1.9), (-46, 1.9), (-45, 2.2), (-43, 2.6), (-41, 3.1), (-40, 2.6), (-39, 2.9), (-38, 3.4), (-36, 3.5), (-35, 2.9), (-34, 2.4), (-32, 2.4), (-30, 2.4)],
    [(-75, 0), (-58, 0), (-57, .1), (-53.4, .3), (-50.3, .6), (-47.7, 1.3), (-45.7, 1.6), (-43.6, 1.7), (-41.6, 1.5), (-39.5, 1.9), (-37.5, 2.7), (-35.9, 3.1), (-34.9, 2.8), (-33.9, 1.3), (-32.8, .7), (-31.3, .3), (-30, .1)],
    [(-75, 0), (-53, 0), (-51, .2), (-49, .5), (-46, 1.8), (-43.9, 2.3), (-41.9, 2.2), (-40.4, 3.5), (-38.3, 2.9), (-36.3, 3.8), (-34.3, 4.2), (-32.8, 3.5), (-31.8, 2.3), (-30, 2.4)],
    [(-75, 1.4), (-72.9, 3.2), (-71.1, 7.7), (-69.6, 8.6), (-67.8, 7.4), (-66.5, 8.6), (-64.4, 9.0), (-61.8, 9.1), (-59.2, 9.5), (-56.6, 10.0), (-54, 8.3), (-51.5, 7.7), (-49.4, 7.4), (-47.3, 5.9), (-45.8, 3.8), (-44.7, 3.0), (-41.6, 2.1), (-39, .9), (-37.5, .6), (-35.4, 1.0), (-32.8, .7), (-30.2, .4)],
    [(-75, 0), (-60.5, 0), (-59.8, .2), (-58.5, 3.5), (-57.2, 6.5), (-55.9, 9.2), (-54.9, 11.5), (-53.3, 13.6), (-52, 14.2), (-50.7, 14.4), (-49.4, 14.2), (-48.1, 13.9), (-46.8, 13.6), (-45.5, 13.0), (-44.3, 12.1), (-43, 12.1), (-41.7, 12.5), (-40.4, 11.5), (-39.1, 13.6), (-37.8, 15.6), (-36.5, 12.7), (-35.2, 9.5), (-33.9, 5.3), (-32.6, 3.4), (-31, 2.6), (-30, 2.3)],
    [(-75, 0), (-63, 0), (-62.7, .8), (-62, 2.9), (-60.7, 7.1), (-59.4, 11.2), (-58.1, 11.8), (-56.2, 11.2), (-54.2, 11.5), (-52.3, 11.5), (-51, 10.5), (-49.1, 10.3), (-47.1, 9.7), (-45.2, 8.3), (-43.9, 7.7), (-42, 5.6), (-40.7, 5.9), (-38.7, 7.4), (-36.8, 8.5), (-35.5, 8.3), (-34.2, 3.5), (-32.9, 2.6), (-31.6, 1.7), (-30, .8)],
    [(-75, 0), (-63.6, 0), (-63.5, .3), (-62.5, 3.0), (-61.2, 8.3), (-60.3, 10.3), (-59.6, 8.6), (-59, 7.4), (-58, 8.9), (-56.7, 10.1), (-55.7, 10.5), (-54.7, 8.6), (-53.8, 8.9), (-52.8, 8.0), (-51.8, 8.3), (-50.8, 6.8), (-49.9, 8.0), (-48.9, 9.5), (-47.9, 10.3), (-47, 9.7), (-45.6, 8.0), (-44.4, 6.2), (-43.1, 4.7), (-41.4, 4.1), (-40.5, 4.7), (-38.5, 6.2), (-36.6, 8.0), (-35.3, 8.3), (-34, 7.4), (-32, 6.8), (-31, 5.9), (-30, 4.1)],
    [(-75, 0), (-62.2, 0), (-61.2, 1.8), (-60.6, 3.2), (-59.9, 2.6), (-59.3, 3.2), (-58.3, 1.5), (-57.6, .6), (-56.7, .9), (-55.4, 1.5), (-54.1, 2.6), (-52.8, 5.3), (-51.5, 8.6), (-50.5, 10.9), (-49.8, 10.6), (-48.9, 9.2), (-47.6, 9.5), (-46.3, 8.9), (-45, 5.9), (-43.7, 3.8), (-42.4, 2.2), (-41.1, 1.8), (-39.8, 1.5), (-38.5, 1.2), (-36.5, 1.0), (-34.6, 1.1), (-32.6, 1.0), (-30, .6)],
    [(-75, 0), (-74.1, 1.2), (-73.3, 1.5), (-72.5, .3), (-71, 0), (-70.3, 2.1), (-69.8, 3.8), (-69.1, 2.4), (-68.4, 0), (-66.8, 1.5), (-65.2, .9), (-64.2, 1.5), (-62.6, 2.6), (-61.6, 5.4), (-60.8, 9.8), (-60, 15.8), (-59, 20.9), (-57.9, 22.1), (-56.9, 20.0), (-55.9, 17.9), (-54.8, 17.3), (-53.8, 16.4), (-52.8, 14.6), (-51.7, 12.8), (-50.7, 11.0), (-49.6, 10.1), (-48.1, 9.6), (-46.5, 8.6), (-45, 7.4), (-43.4, 9.0), (-42.4, 9.8), (-40.8, 10.1), (-39, 10.6), (-37.7, 8.0), (-36.1, 7.4), (-35.1, 6.9), (-34.1, 5.1), (-32.5, 4.5), (-31, 4.2), (-30, 3.6)],
    [(-75, 0), (-70.8, 0), (-70.2, 2.0), (-69.2, 2.9), (-67.9, 5.5), (-67.3, 4.7), (-66.3, 8.5), (-65.7, 6.7), (-65, 4.4), (-64.1, 8.8), (-63.1, 17.1), (-62.5, 20.9), (-61.5, 19.1), (-60.2, 19.4), (-58.9, 18.8), (-57, 18.5), (-55.7, 17.1), (-53.8, 16.2), (-52.5, 15.9), (-50.6, 13.5), (-49.3, 11.8), (-47.3, 10.6), (-45.4, 9.4), (-43.5, 7.6), (-42.2, 7.0), (-40.9, 8.2), (-39.6, 8.2), (-38.3, 7.3), (-37.1, 6.1), (-35.1, 4.1), (-33.8, 2.3), (-32.6, 1.1), (-31.3, .5), (-30, .2)],
    [(-75, 0), (-69.5, 0), (-68.5, .5), (-67.5, 2.6), (-66.6, 9.4), (-65.9, 17), (-65.3, 22.9), (-64.6, 24), (-64, 23.5), (-63.3, 23.2), (-62.7, 24), (-62, 23.5), (-61.4, 18.5), (-60.4, 13.5), (-59.1, 10.5), (-57.8, 7.6), (-56.5, 5.2), (-55.2, 5.5), (-53.9, 6.4), (-52.6, 7.3), (-51.3, 7.9), (-50, 8.2), (-48.7, 8.8), (-47.4, 6.7), (-46.1, 5.2), (-44.8, 5.8), (-43.5, 6.4), (-42.2, 4.7), (-40.9, 6.4), (-39.6, 7.9), (-38.3, 8.2), (-37, 8.8), (-35.7, 10.5), (-34.4, 9.9), (-33.4, 8.2), (-32.5, 5.5), (-31.2, 3.8), (-30, 2.6)],
    [(-75, 3.1), (-74.2, 5.5), (-73.7, 4.0), (-73, 4.0), (-72.2, 4.3), (-71.4, 4.6), (-70.9, 2.2), (-70.4, .7), (-69.6, 2.2), (-68.8, 5.2), (-68, 7.0), (-67.3, 7.0), (-66.2, 7.6), (-65.2, 8.2), (-64.2, 9.0), (-63.1, 12.3), (-62.4, 14.7), (-61.9, 15.4), (-61.1, 15.0), (-60, 14.7), (-59, 14.1), (-58.2, 13.9), (-57.5, 13.8), (-56.4, 13.6), (-55.4, 13.2), (-54.4, 12.0), (-53.4, 10.8), (-52.3, 9.3), (-51.3, 8.4), (-50.3, 8.2), (-49.2, 7.6), (-48.2, 6.4), (-46.6, 4.9), (-45.1, 4.0), (-44.1, 2.8), (-43, 1.9), (-42, 1.6), (-40.5, 1.0), (-38.9, .7), (-37.4, .6), (-35.8, 1.0), (-34.8, 1.0), (-33.2, 1.2), (-31.7, .9), (-30, .4)],
    [(-75, .4), (-73.5, .6), (-72, .7), (-71, 1.2), (-69.4, 3.1), (-68.4, 5.2), (-67.3, 5.5), (-66.3, 7.0), (-65.2, 9.9), (-64.2, 11.4), (-63.2, 13.2), (-62.1, 15.0), (-61.1, 14.7), (-60, 14.8), (-59, 15.0), (-57.9, 14.1), (-56.9, 12.9), (-55.9, 12.6), (-54.8, 12.3), (-53.3, 11.4), (-52.2, 9.9), (-51.2, 8.4), (-50.2, 7.8), (-49.1, 6.7), (-48.1, 5.5), (-47.1, 5.2), (-46, 4.9), (-45, 4.4), (-44, 5.5), (-42.9, 7.8), (-41.9, 9.6), (-40.6, 11.4), (-39.8, 11.1), (-38.7, 9.6), (-37.7, 7.8), (-36.6, 7.0), (-35.6, 5.5), (-34.6, 4.6), (-33.5, 4.3), (-32.5, 3.8), (-31.5, 3.7), (-30.7, 3.8), (-30, 3.7)],
    [(-75, 0), (-70.7, 0), (-69.7, .7), (-68.4, 2.5), (-67.2, 5.5), (-65.9, 9.6), (-64.6, 13.5), (-63.3, 15.3), (-62, 15.5), (-60.7, 14.4), (-59.4, 13.2), (-58.2, 11.7), (-56.9, 10.8), (-55.6, 10.2), (-54.3, 10.2), (-49.1, 10.2), (-47.9, 8.5), (-46.6, 6.4), (-45.3, 4.6), (-44, 3.7), (-42.7, 3.7), (-42.1, 5.2), (-40.8, 5.8), (-39.5, 5.8), (-38.3, 5.2), (-37, 4.3), (-35.7, 4.3), (-34.7, 3.4), (-33.7, 1.3), (-32.4, .6), (-30, .1)],
    [(-75, .4), (-73.3, .3), (-71.3, .3), (-70, .4), (-68.7, .5), (-67.7, 1.4), (-66.8, 5.0), (-65.8, 11.5), (-64.8, 16.3), (-64.2, 17.2), (-63.5, 16.0), (-62.9, 15.1), (-62.2, 13.9), (-61.6, 13.3), (-61, 12.4), (-59.7, 11.5), (-58.4, 10.6), (-57.1, 9.1), (-55.8, 8.3), (-53.8, 7.4), (-52.5, 7.1), (-51.2, 7.7), (-49.9, 8.0), (-48.7, 6.8), (-47.4, 5.3), (-46.1, 4.4), (-44.8, 4.7), (-43.5, 6.8), (-42.2, 5.6), (-41.6, 5.3), (-40.2, 7.4), (-38.9, 8.0), (-37.7, 6.5), (-36.4, 7.1), (-35.1, 6.8), (-33.8, 6.2), (-32.5, 5.3), (-31.2, 3.8), (-30, 2.3)],
]

UML = [
    [(-75, 0), (-72, 0), (-71.3, -5), (-70.6, -22), None, (-64, -2), (-63.5, -35), (-62.9, -70), (-60.3, -66), (-58.8, -70), (-56.2, -87), (-53.6, -107), (-52.6, -112), (-50, -109), (-46.9, -112), (-43.8, -109), (-41.8, -117), (-40.5, -129), (-39.4, -132), (-37.6, -117), (-36.1, -107), (-34, -92), (-32, -90), (-30, -82)],
    [(-75, 0), (-70.5, 0), (-69, -3), (-68.3, -10), (-67.3, 0), (-66.6, -25), (-65.5, -79), (-63.2, -54), (-60.6, -64), (-58, -81), (-55.4, -101), (-52.9, -116), (-50.3, -136), (-48.3, -133), (-46.7, -138), (-45.7, -146), (-43.6, -165), (-42.6, -173), (-40, -170), (-38.5, -160), (-36.4, -146), (-34.9, -121), (-33.3, -91), (-31.8, -81), (-30, -79)],
    [(-75, 0), (-68, 0), (-67.3, -3), (-66.7, -15), None, (-64.2, -46), (-63.7, -46), (-62.7, -56), (-61.2, -80), (-59.7, -100), (-58.1, -115), (-56.6, -127), (-55.1, -160), (-54.1, -189), (-52.6, -221), (-51.5, -224), (-51, -243), (-50, -236), (-48.5, -219), (-47, -184), (-45.5, -164), (-43.9, -120), (-42.4, -113), (-40.9, -105), (-38.9, -100), (-37.3, -95), (-35.8, -83), (-33.8, -71), (-32.3, -51), (-30, -46)],
    [(-75, -6), (-72.7, -21), (-70.1, -29), (-67.5, -38), (-64.9, -48), (-62.3, -61), (-59.7, -70), (-58.2, -78), (-56.6, -88), (-55.1, -85), (-53, -78), (-49.9, -68), (-46.8, -58), (-43.7, -48), (-40.6, -41), (-37.5, -36), (-34.4, -32), (-32.3, -31), (-30, -31)],
    [(-75, 0), (-71.8, 0), (-71.3, -5), (-70.8, -30), None, (-65.6, -24), (-64.3, -6), (-63, -16), (-62.1, -11), (-61.1, -39), (-59.8, -44), (-58.5, -49), (-57.2, -78), (-55.9, -113), (-54.6, -133), (-53.3, -150), (-52, -140), (-50.7, -145), (-48.8, -158), (-46.8, -155), (-44.9, -168), (-43.6, -202), (-42.3, -222), (-41, -262), (-39.7, -302), (-38.4, -272), (-37.1, -232), (-35.8, -188), (-34.5, -173), (-32.6, -163), (-31, -158), (-30, -133)],
    [(-75, 0), (-70, 0), (-68.5, -5), (-67.3, 0), (-66.5, -40), (-65.8, -105), None, (-62.6, -50), (-61.3, -69), (-59.4, -84), (-57.5, -109), (-55.5, -134), (-53, -153), (-51, -168), (-49.1, -173), (-47.8, -183), (-46.5, -223), (-45.2, -262), (-43.3, -302), (-42, -332), (-40, -351), (-38.7, -347), (-37.5, -312), (-35.5, -252), (-33.6, -198), (-31.6, -144), (-30, -114)],
    [(-75, 0), (-68, 0), (-67.5, -3), (-66.8, -12), None, (-63.5, -55), (-62.5, -60), (-61.2, -90), (-59.9, -129), (-57.9, -154), (-56.6, -168), (-55.4, -223), (-53.4, -262), (-52.1, -297), (-50.8, -326), (-49.5, -400), (-47, -400), (-46.3, -390), (-45, -355), (-43.7, -311), (-42.4, -267), (-40.8, -257), (-39.2, -228), (-37.9, -203), (-35.9, -178), (-34.6, -144), (-32.7, -100), (-31.4, -85), (-30, -80)],
    [(-75, 0), (-70, 0), (-69, -6), (-68.4, -16), (-67.4, -45), (-66.4, -80), (-65.1, -114), (-64.1, -134), (-63.2, -159), (-61.9, -168), (-60.9, -183), (-60.2, -188), (-59.3, -223), (-58, -252), (-56.7, -282), (-55.4, -311), (-54.1, -331), (-52.8, -356), (-51.8, -360), (-50.8, -321), (-49.5, -262), (-48.2, -223), (-46.3, -178), (-44.3, -154), (-42.4, -144), (-41.1, -129), (-39.8, -119), (-37.8, -124), (-35.9, -129), (-33.9, -134), (-32, -134), (-30, -134)],
    [(-75, 0), (-72.5, 0), (-70.4, -2), (-68.9, -5), (-66.3, -7), (-63.7, -10), (-61.1, -12), (-59, -17), (-57.9, -37), (-56.4, -52), (-54.8, -62), (-53.3, -67), (-52.2, -70), (-50.7, -60), (-48.1, -57), (-46, -52), (-43.9, -47), (-41.9, -40), (-39.8, -37), (-37.7, -32), (-36.7, -37), (-35.6, -27), (-33.5, -25), (-30, -20)],
    [(-75, 0), (-68.6, 0), (-66.6, -7), (-64.7, -10), (-62.1, -15), (-60.2, -32), (-58.3, -52), (-56.4, -66), (-54.4, -79), (-52.5, -81), (-50.6, -84), (-49.3, -74), (-47.3, -57), (-45.4, -47), (-43.5, -42), (-41.6, -42), (-39.6, -44), (-37.7, -37), (-35.8, -32), (-33.8, -30), (-31.9, -34), (-30, -32)],
    [(-75, 0), (-69.5, 0), (-68.2, -6), (-66.9, -14), (-65.9, -19), (-65, -24), (-63.6, -33), (-62.3, -48), (-61, -58), (-59.7, -63), (-58.4, -68), (-57.1, -65), (-55.8, -63), (-54.5, -58), (-53.2, -63), (-52.6, -73), (-51.3, -65), (-50, -58), (-48.7, -53), (-47.4, -48), (-46.1, -41), (-44.2, -33), (-42.2, -28), (-40.3, -26), (-38.3, -25), (-36.4, -24), (-34.4, -25), (-32.5, -23), (-30, -21)],
    [(-75, -1), (-71.9, -1), (-69.3, -7), (-66.8, -15), (-64.2, -22), (-62.6, -32), (-61.1, -47), (-59.5, -57), (-58, -67), (-57, -81), (-55.7, -89), (-54.4, -81), (-53.4, -69), (-51.8, -62), (-50.3, -54), (-48.7, -49), (-47.2, -42), (-45.1, -37), (-43, -32), (-41, -27), (-38.9, -22), (-36.9, -20), (-34.8, -20), (-32.7, -20), (-31.2, -22), (-30, -25)],
    [(-75, 0), (-73, 0), (-72, -17), (-71, -37), (-70.4, -57), (-69.9, -62), (-69.4, -32), (-67.8, -27), (-66.3, -25), (-64.7, -27), (-62.6, -32), (-60.6, -40), (-58.5, -49), (-56.4, -57), (-54.3, -67), (-52.8, -72), (-51.2, -69), (-49.1, -67), (-47.1, -62), (-45, -54), (-42.9, -52), (-40.8, -49), (-39.3, -54), (-37.7, -44), (-35.6, -42), (-33.5, -40), (-31.5, -37), (-30, -32)],
    [(-75, 0), (-70.7, 0), (-69.7, -6), (-68.4, -21), (-67.2, -36), (-65.9, -41), (-64.6, -36), (-63.3, -36), (-62, -44), (-60.7, -53), (-59.4, -66), (-58.2, -76), (-56.9, -83), (-54.9, -91), (-53, -96), (-51.1, -98), (-49.8, -93), (-48.5, -83), (-47.2, -76), (-45.9, -68), (-44, -63), (-42.1, -61), (-40.1, -58), (-38.9, -60), (-37, -51), (-35.7, -46), (-33.7, -39), (-31.8, -39), (-30, -36)],
    [(-75, -15), (-73.3, -7), (-72, -5), (-70.7, -2), (-69.4, -5), (-68.1, -15), (-66.8, -40), (-65.5, -35), (-64.2, -37), (-62.9, -50), (-61.6, -59), (-60.3, -69), (-59, -74), (-57.1, -79), (-55.1, -89), (-53.2, -92), (-51.9, -92), (-50.6, -89), (-49.3, -84), (-48, -74), (-46.7, -64), (-45.4, -59), (-44.1, -54), (-42.8, -50), (-40.9, -50), (-38.9, -47), (-37.7, -42), (-35.7, -40), (-33.8, -37), (-31.8, -32), (-30, -25)],
]

# POS 05Apr08 panel shows the same section as POS 10Jul07 in the source figure
for series in (NFIX, PROC, COCCO, PHAEO, SMDIA, ZOO, UML):
    series.append(copy.deepcopy(series[3]))

# panel geometry in pixels
COLS = [(26, 316), (347, 638), (671, 963), (996, 1287)]
ROWS = [(24, 293), (333, 603), (647, 917), (955, 1224)]

AX = "#4a4a4a"
RED = "#B3263C"
RED_TXT = "#B8475A"
RED_AX = "#D58C97"
BLUE = "#1010F0"
EDGE = "rgba(25,25,25,0.85)"


def split(points):
    segs = [[]]
    for pt in points:
        if pt is None:
            segs.append([])
        else:
            segs[-1].append(pt)
    return [s for s in segs if s]


def line_xy(points):
    xs, ys = [], []
    for pt in points:
        if pt is None:
            xs.append(None)
            ys.append(None)
        else:
            xs.append(pt[0])
            ys.append(pt[1])
    return xs, ys


def nm(prefix, n):
    return prefix if n == 1 else prefix + str(n)


fig = go.Figure()
layout = dict(template="none", width=W, height=H, margin=dict(l=0, r=0, t=0, b=0, autoexpand=False),
              paper_bgcolor="white", plot_bgcolor="white",
              font=dict(family="DejaVu Sans", size=10, color="#333"),
              showlegend=True, hovermode=False, annotations=[])

LEGEND_PANEL = 8

for p in range(16):
    r, c = divmod(p, 4)
    xa = nm("x", p + 1)
    ya, yu, yz = nm("y", 3 * p + 1), nm("y", 3 * p + 2), nm("y", 3 * p + 3)
    leg = (p == LEGEND_PANEL)

    layers = [split(s[p]) for s in (NFIX, PROC, COCCO, PHAEO, SMDIA)]
    for si in range(len(layers[0])):
        x0 = layers[0][si][0][0]
        x1 = layers[0][si][-1][0]
        fig.add_trace(go.Scatter(x=[x0, x1], y=[0, 0], mode="lines", line=dict(width=0, color="rgba(0,0,0,0)"),
                                 xaxis=xa, yaxis=ya, showlegend=False, hoverinfo="skip"))
        for k in range(5):
            seg = layers[k][si]
            fig.add_trace(go.Scatter(x=[q[0] for q in seg], y=[q[1] for q in seg], mode="lines",
                                     fill="tonexty", fillcolor=SERIES_COLORS[k],
                                     line=dict(color=EDGE, width=0.7),
                                     name=SERIES_NAMES[k], legendgroup=SERIES_NAMES[k],
                                     showlegend=leg and si == 0, xaxis=xa, yaxis=ya, hoverinfo="skip"))
        fig.add_trace(go.Scatter(x=[x0, x1], y=[1, 1], mode="lines", fill="tonexty", fillcolor=SERIES_COLORS[5],
                                 line=dict(color=EDGE, width=0.7), name=SERIES_NAMES[5], legendgroup=SERIES_NAMES[5],
                                 showlegend=leg and si == 0, xaxis=xa, yaxis=ya, hoverinfo="skip"))

    zx, zy = line_xy(ZOO[p])
    fig.add_trace(go.Scatter(x=zx, y=zy, mode="lines", line=dict(color=BLUE, width=2.2, dash="7px,5px"),
                             name="Zoo", showlegend=leg, xaxis=xa, yaxis=yz, hoverinfo="skip"))
    ux, uy = line_xy(UML[p])
    fig.add_trace(go.Scatter(x=ux, y=uy, mode="lines", line=dict(color=RED, width=2.2, dash="7px,5px"),
                             name="UML", showlegend=leg, xaxis=xa, yaxis=yu, hoverinfo="skip"))

    xd = [COLS[c][0] / W, COLS[c][1] / W]
    yd = [1 - ROWS[r][1] / H, 1 - ROWS[r][0] / H]
    xt = [("-75" if c == 0 else "75")] + [str(v) for v in X_TICKS[1:]]
    layout[nm("xaxis", p + 1)] = dict(domain=xd, anchor=ya, range=[-75, -30], tickvals=X_TICKS, ticktext=xt,
                                      ticks="inside", ticklen=4, tickcolor=AX, showline=True, linecolor=AX,
                                      linewidth=1, mirror="ticks", showgrid=False, zeroline=False,
                                      automargin=False, tickfont=dict(size=9.5, color="#444"), fixedrange=True)
    layout[nm("yaxis", 3 * p + 1)] = dict(domain=yd, anchor=xa, range=[0, 1], tickvals=FRAC_TICKS,
                                          ticktext=FRAC_LABELS, showticklabels=(c == 0), ticks="inside",
                                          ticklen=4, tickcolor=AX, showline=True, linecolor=AX, linewidth=1,
                                          showgrid=False, zeroline=False, automargin=False,
                                          tickfont=dict(size=9.5, color="#444"), fixedrange=True)
    layout[nm("yaxis", 3 * p + 2)] = dict(overlaying=ya, anchor=xa, side="right", range=[-400, 0],
                                          tickvals=UML_TICKS, ticktext=UML_LABELS, ticks="inside", ticklen=4,
                                          tickcolor=RED_AX, showline=True, linecolor=RED_AX, linewidth=1,
                                          showgrid=False, zeroline=False, automargin=False,
                                          tickfont=dict(size=9.5, color=RED_TXT), fixedrange=True)
    # zooplankton scale: labels drawn just inside the left edge of the panel
    layout[nm("yaxis", 3 * p + 3)] = dict(overlaying=ya, anchor="free", position=xd[0] + 1 / W, side="right",
                                          range=[0, 24], tickvals=ZOO_TICKS, ticktext=ZOO_LABELS,
                                          showticklabels=SHOW_ZOO_LABELS[p], ticks="", ticklabelstandoff=1,
                                          showline=False, showgrid=False, zeroline=False,
                                          automargin=False, tickfont=dict(size=9.5, color="#3838E0"),
                                          fixedrange=True)
    layout["annotations"].append(dict(text=TITLES[p], x=(xd[0] + xd[1]) / 2, y=1 - (ROWS[r][0] - 10) / H,
                                      xref="paper", yref="paper", showarrow=False, xanchor="center",
                                      yanchor="middle", font=dict(size=12.5, color="#222")))

layout["legend"] = dict(x=31 / W, y=1 - 724 / H, xanchor="left", yanchor="top", traceorder="normal",
                        bgcolor="white", bordercolor="#222", borderwidth=1, font=dict(size=10.5, color="#222"),
                        itemwidth=30, tracegroupgap=0)
fig.update_layout(**layout)
fig.write_html("out.html")
